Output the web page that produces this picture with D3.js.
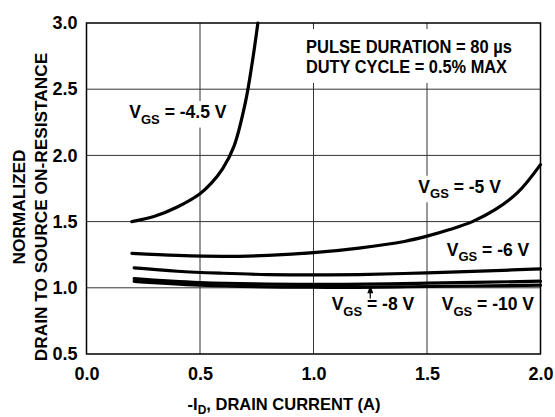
<!doctype html>
<html>
<head>
<meta charset="utf-8">
<title>Normalized on-resistance vs drain current</title>
<script src="https://cdnjs.cloudflare.com/ajax/libs/d3/7.8.5/d3.min.js"></script>
<style>
  body { margin: 0; background: #fff; }
  text { font-family: "Liberation Sans", Arial, sans-serif; font-weight: bold; fill: #000; }
</style>
</head>
<body>
<div id="chart"></div>
<script>
// ---- data ----
var xTicks = [0, 0.5, 1.0, 1.5, 2.0];
var yTicks = [0.5, 1.0, 1.5, 2.0, 2.5, 3.0];

var vgs45Id = [0.2, 0.3, 0.4, 0.5, 0.55, 0.6, 0.65, 0.7, 0.73, 0.755];
var vgs45R  = [1.50, 1.54, 1.61, 1.71, 1.79, 1.90, 2.07, 2.40, 2.70, 3.0];

var vgs5Id = [0.2, 0.4, 0.6, 0.8, 1.0, 1.2, 1.4, 1.5, 1.6, 1.7, 1.8, 1.9, 2.0];
var vgs5R  = [1.26, 1.245, 1.238, 1.245, 1.265, 1.30, 1.35, 1.39, 1.44, 1.50, 1.59, 1.72, 1.93];

var vgs6Id = [0.21, 0.4, 0.6, 0.8, 1.0, 1.2, 1.5, 1.8, 2.0];
var vgs6R  = [1.15, 1.125, 1.11, 1.10, 1.097, 1.10, 1.113, 1.13, 1.143];

var vgs8Id = [0.21, 0.5, 1.0, 1.5, 2.0];
var vgs8R  = [1.07, 1.04, 1.026, 1.035, 1.05];

var vgs10Id = [0.21, 0.5, 1.0, 1.5, 2.0];
var vgs10R  = [1.048, 1.02, 1.004, 1.01, 1.02];

var W = 555, H = 417;
var pl = 86.5, pr = 540.5, pt = 23, pb = 354;

var svg = d3.select("#chart").append("svg")
    .attr("width", W).attr("height", H);

var x = d3.scaleLinear().domain([0, 2]).range([pl, pr]);
var y = d3.scaleLinear().domain([0.5, 3]).range([pb, pt]);

// grid
var grid = svg.append("g");
grid.selectAll(".vg").data(xTicks.slice(1, -1)).enter().append("line")
    .attr("x1", d => x(d)).attr("x2", d => x(d))
    .attr("y1", pt).attr("y2", pb)
    .attr("stroke", "#333").attr("stroke-width", 1);
grid.selectAll(".hg").data(yTicks.slice(1, -1)).enter().append("line")
    .attr("x1", pl).attr("x2", pr)
    .attr("y1", d => y(d)).attr("y2", d => y(d))
    .attr("stroke", "#333").attr("stroke-width", 1);

// axes (labels only, frame drawn below)
var xAxis = svg.append("g")
    .attr("transform", "translate(0," + pb + ")")
    .call(d3.axisBottom(x).tickValues(xTicks).tickSize(0).tickPadding(9).tickFormat(d3.format(".1f")));
var yAxis = svg.append("g")
    .attr("transform", "translate(" + pl + ",0)")
    .call(d3.axisLeft(y).tickValues(yTicks).tickSize(0).tickPadding(9).tickFormat(d3.format(".1f")));
[xAxis, yAxis].forEach(function (a) {
  a.select(".domain").remove();
  a.selectAll("text").attr("font-family", "Liberation Sans, Arial, sans-serif")
    .attr("font-weight", "bold").attr("font-size", 18).attr("fill", "#000");
});
xAxis.selectAll("text").attr("dy", "0.95em");

// curves
var line = d3.line().x(d => x(d[0])).y(d => y(d[1])).curve(d3.curveCatmullRom.alpha(0.5));
var series = [
  [vgs45Id, vgs45R], [vgs5Id, vgs5R], [vgs6Id, vgs6R], [vgs8Id, vgs8R], [vgs10Id, vgs10R]
];

// label boxes are white, they cut the grid lines
function label(xv, yv, pre, sub, post) {
  var g = svg.append("g");
  var t = g.append("text").attr("x", x(xv)).attr("y", y(yv)).attr("font-size", 17.5);
  t.append("tspan").text(pre);
  t.append("tspan").attr("font-size", 13).attr("dy", 5.5).text(sub);
  t.append("tspan").attr("dy", -5.5).text(post);
  var b = t.node().getBBox();
  g.insert("rect", "text").attr("x", b.x - 3).attr("y", b.y - 1)
    .attr("width", b.width + 6).attr("height", b.height + 2).attr("fill", "#fff");
  return g;
}

// note box (the source font is a bit narrower than Arial)
var note = svg.append("g");
note.append("text").attr("x", 306).attr("y", 52.5).attr("font-size", 17.5)
    .attr("textLength", 206).attr("lengthAdjust", "spacingAndGlyphs")
    .text("PULSE DURATION = 80 \u00b5s");
note.append("text").attr("x", 306).attr("y", 72.5).attr("font-size", 17.5)
    .attr("textLength", 201).attr("lengthAdjust", "spacingAndGlyphs")
    .text("DUTY CYCLE = 0.5% MAX");
note.insert("rect", "text").attr("x", 300).attr("y", 29)
    .attr("width", 218).attr("height", 54).attr("fill", "#fff");

label(0.1885, 2.282, "V", "GS", " = -4.5 V");
label(1.462, 1.718, "V", "GS", " = -5 V");
label(1.587, 1.242, "V", "GS", " = -6 V");
label(1.08, 0.832, "V", "GS", " = -8 V");
label(1.565, 0.832, "V", "GS", " = -10 V");

svg.append("g").selectAll("path").data(series).enter().append("path")
    .attr("d", s => line(s[0].map((v, i) => [v, s[1][i]])))
    .attr("fill", "none").attr("stroke", "#000").attr("stroke-width", 3.2)
    .attr("stroke-linecap", "round");

// arrow to the -8 V curve
svg.append("line")
    .attr("x1", x(1.25)).attr("x2", x(1.25))
    .attr("y1", y(0.92)).attr("y2", y(0.99))
    .attr("stroke", "#000").attr("stroke-width", 1.2);
svg.append("path")
    .attr("d", "M" + x(1.25) + "," + (y(1.02)) + "l-3,8h6z").attr("fill", "#000");

// frame
svg.append("rect").attr("x", pl).attr("y", pt)
    .attr("width", pr - pl).attr("height", pb - pt)
    .attr("fill", "none").attr("stroke", "#000").attr("stroke-width", 1.5);

// axis titles
var xt = svg.append("text").attr("x", 284).attr("y", 410).attr("text-anchor", "middle")
    .attr("font-size", 16.5);
xt.append("tspan").text("-I");
xt.append("tspan").attr("font-size", 12).attr("dy", 4).text("D");
xt.append("tspan").attr("dy", -4).text(", DRAIN CURRENT (A)");

var yt = svg.append("text").attr("transform", "translate(25,207) rotate(-90)")
    .attr("text-anchor", "middle").attr("font-size", 17.3);
yt.append("tspan").attr("x", 0).attr("y", 0).text("NORMALIZED");
yt.append("tspan").attr("x", 0).attr("y", 22).text("DRAIN TO SOURCE ON-RESISTANCE");
</script>
</body>
</html>
